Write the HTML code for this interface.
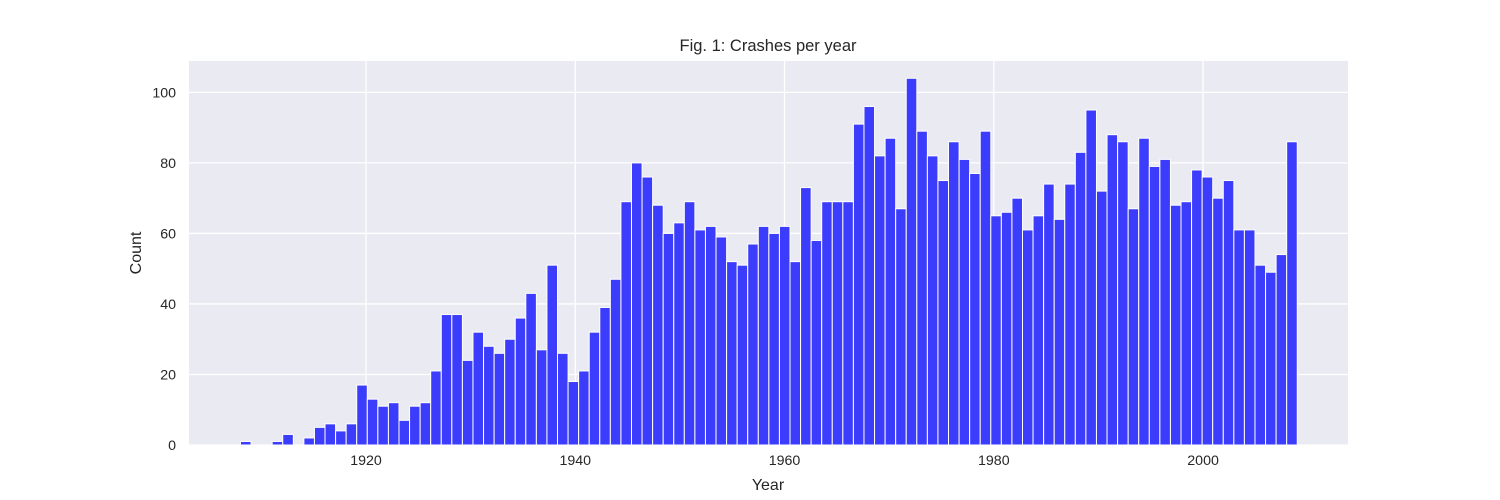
<!DOCTYPE html>
<html><head><meta charset="utf-8"><style>
html,body{margin:0;padding:0;background:#fff;}
svg{display:block;font-family:"Liberation Sans",sans-serif;}
</style></head><body>
<svg id="chart" width="1500" height="500" viewBox="0 0 1500 500" xmlns="http://www.w3.org/2000/svg">
<rect x="189" y="61" width="1159" height="384" fill="#eaeaf2"/>
<g id="grid"></g>
<g id="bars"></g>
<g id="ticks"></g>
<text x="768" y="51" text-anchor="middle" font-size="16.5" fill="#262626">Fig. 1: Crashes per year</text>
<text x="768" y="490" text-anchor="middle" font-size="16" fill="#262626">Year</text>
<text x="141" y="253" text-anchor="middle" font-size="16" fill="#262626" transform="rotate(-90 141 253)">Count</text>
</svg>
<script>
const startYear = 1908;
const binWidth = 1.01;
const counts = [1,0,0,1,3,0,2,5,6,4,6,17,13,11,12,7,11,12,21,37,37,24,32,28,26,30,36,43,27,51,26,18,21,32,39,47,69,80,76,68,60,63,69,61,62,59,52,51,57,62,60,62,52,73,58,69,69,69,91,96,82,87,67,104,89,82,75,86,81,77,89,65,66,70,61,65,74,64,74,83,95,72,88,86,67,87,79,81,68,69,78,76,70,75,61,61,51,49,54,86];
const xTicks = [1920,1940,1960,1980,2000];
const yTicks = [0,20,40,60,80,100];

const NS = "http://www.w3.org/2000/svg";
const X0 = 189, X1 = 1348, Y0 = 61, Y1 = 445;
const xMin = 1903.08, xMax = 2013.85, yMax = 108.9;
const xs = v => X0 + (v - xMin) / (xMax - xMin) * (X1 - X0);
const ys = v => Y1 - v / yMax * (Y1 - Y0);
function mk(tag, attrs){const e=document.createElementNS(NS,tag);for(const k in attrs)e.setAttribute(k,attrs[k]);return e;}
const grid=document.getElementById('grid'), bars=document.getElementById('bars'), ticks=document.getElementById('ticks');
xTicks.forEach(t=>{
  const l=mk('line',{x1:xs(t),x2:xs(t),y1:Y0,y2:Y1,stroke:'#fff','stroke-width':1.3});
  
  
  grid.appendChild(l);
  const tx=mk('text',{x:xs(t),y:Y1+20,'text-anchor':'middle','font-size':14.2,fill:'#262626'});
  tx.textContent=t;
  
  
  ticks.appendChild(tx);
});
yTicks.forEach(t=>{
  const l=mk('line',{x1:X0,x2:X1,y1:ys(t),y2:ys(t),stroke:'#fff','stroke-width':1.3});
  
  
  grid.appendChild(l);
  const tx=mk('text',{x:X0-13,y:ys(t)+5,'text-anchor':'end','font-size':14.2,fill:'#262626'});
  tx.textContent=t;
  
  
  ticks.appendChild(tx);
});
counts.forEach((c,i)=>{
  if(c<=0) return;
  const a=startYear+i*binWidth, b=a+binWidth;
  const r=mk('rect',{x:xs(a),y:ys(c),width:xs(b)-xs(a),height:ys(0)-ys(c),fill:'#3c3cfd',stroke:'#fff','stroke-width':1});
  
  
  bars.appendChild(r);
});
</script>
</body></html>
